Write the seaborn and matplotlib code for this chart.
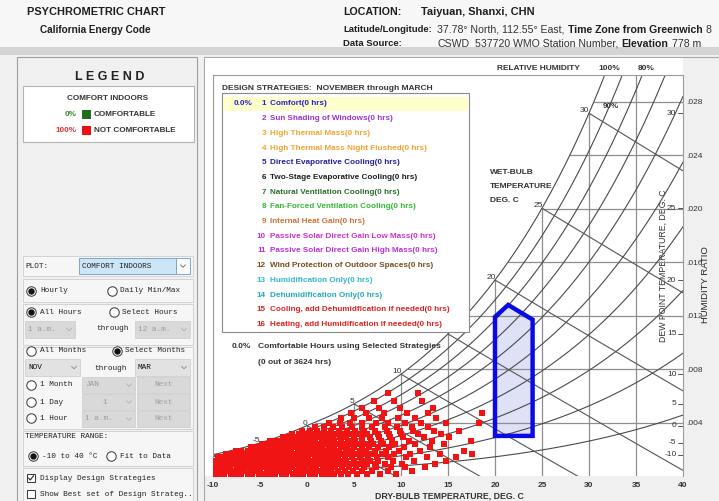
import numpy as np
import pandas as pd
import matplotlib
matplotlib.use("Agg")
import matplotlib.pyplot as plt
import seaborn as sns
from matplotlib.patches import Rectangle, Polygon
from matplotlib.lines import Line2D

sns.set_style("white")
plt.rcParams["font.family"] = ["Liberation Sans", "DejaVu Sans"]

W, H = 719, 501
P_ATM = 101.325  # chart is drawn at sea level pressure

# ---- chart construction values ----
rh_levels = [1.0, 0.9, 0.8, 0.7, 0.6, 0.5, 0.4, 0.3, 0.2, 0.1]
wet_bulb_temps = [-10, -5, 0, 5, 10, 15, 20, 25, 30]
dry_bulb_grid = [-5, 0, 5, 10, 15, 20, 25, 30, 35]
w_grid = [0.004, 0.008, 0.012, 0.016, 0.020, 0.024, 0.028]
w_tick_labels = [".004", ".008", ".012", ".016", ".020", ".024", ".028"]
dew_point_temps = [-10, -5, 0, 5, 10, 15, 20, 25, 30]
x_ticks = [-10, -5, 0, 5, 10, 15, 20, 25, 30, 35, 40]

# comfort zone outline (dry bulb C, humidity ratio)
comfort_db = [20.0, 24.0, 24.0, 21.4, 20.0]
comfort_w = [0.0030, 0.0030, 0.0117, 0.0128, 0.0119]

# hourly NOV-MAR points (humidity ratio g/kg)
cloud_w = [0.15, 0.4, 0.65, 0.9, 1.15, 1.4, 1.65, 1.9, 2.15, 2.4, 2.65,
           2.9, 3.15, 3.4, 3.7, 4.0, 4.35, 4.7, 5.1, 5.6, 6.2]
cloud_db = [
    [-9.9, -9.3, -8.8, -8.1, -7.6, -7.0, -6.3, -5.8, -5.1, -4.6, -3.9, -3.4, -2.7, -2.2,
     -1.5, -0.9, -0.4, 0.3, 0.9, 1.6, 2.2, 2.9, 3.6, 4.4, 5.3, 6.4, 7.8, 9.5],
    [-9.7, -9.1, -8.5, -7.9, -7.3, -6.8, -6.1, -5.5, -5.0, -4.3, -3.7, -3.1, -2.5, -1.9,
     -1.2, -0.6, 0.0, 0.6, 1.3, 1.9, 2.6, 3.3, 4.0, 4.9, 5.8, 6.9, 8.6, 11.2],
    [-9.9, -9.4, -8.7, -8.2, -7.5, -6.9, -6.4, -5.7, -5.2, -4.6, -3.9, -3.3, -2.8, -2.1,
     -1.6, -0.9, -0.3, 0.4, 1.0, 1.7, 2.3, 3.0, 3.7, 4.5, 5.2, 6.1, 7.3, 8.9, 10.4, 12.5],
    [-9.6, -9.0, -8.4, -7.8, -7.2, -6.6, -6.0, -5.4, -4.8, -4.2, -3.6, -3.0, -2.4, -1.8,
     -1.3, -0.7, -0.1, 0.6, 1.2, 1.9, 2.5, 3.2, 3.9, 4.7, 5.5, 6.4, 7.2, 8.3, 10.1, 13.6],
    [-9.8, -9.2, -8.6, -8.0, -7.4, -6.8, -6.2, -5.6, -5.0, -4.4, -3.8, -3.2, -2.6, -2.0,
     -1.4, -0.9, -0.2, 0.3, 1.0, 1.6, 2.2, 2.9, 3.5, 4.2, 5.0, 5.9, 6.7, 7.6, 9.2, 11.4, 14.8],
    [-9.5, -8.9, -8.3, -7.7, -7.1, -6.5, -5.9, -5.3, -4.7, -4.1, -3.5, -2.9, -2.3, -1.7,
     -1.1, -0.5, 0.1, 0.8, 1.4, 2.0, 2.7, 3.3, 4.0, 4.8, 5.6, 6.5, 7.4, 8.6, 10.5, 12.8, 15.9],
    [-8.6, -8.0, -7.4, -6.8, -6.2, -5.6, -5.0, -4.4, -3.8, -3.2, -2.6, -2.0, -1.5, -0.8,
     -0.2, 0.4, 1.1, 1.7, 2.3, 3.0, 3.7, 4.4, 5.2, 6.0, 6.9, 8.0, 9.3, 11.0, 14.2, 17.6],
    [-7.6, -7.0, -6.3, -5.8, -5.2, -4.6, -4.0, -3.4, -2.8, -2.2, -1.7, -1.0, -0.4, 0.2,
     0.8, 1.5, 2.1, 2.8, 3.4, 4.1, 4.8, 5.6, 6.3, 7.2, 8.4, 9.8, 12.0, 16.7],
    [-6.0, -5.5, -5.0, -4.5, -3.9, -3.3, -2.7, -2.1, -1.5, -0.9, -0.3, 0.3, 1.0, 1.6,
     2.3, 2.9, 3.6, 4.3, 5.0, 5.8, 6.6, 7.5, 8.7, 10.3, 13.1],
    [-4.8, -4.3, -3.8, -3.2, -2.6, -2.0, -1.4, -0.8, -0.2, 0.5, 1.1, 1.8, 2.4, 3.1,
     3.8, 4.6, 5.4, 6.2, 7.0, 8.1, 9.4, 11.5, 14.6],
    [-3.9, -3.3, -2.7, -2.1, -1.5, -0.9, -0.3, 0.3, 0.9, 1.6, 2.2, 2.9, 3.6, 4.4,
     5.1, 5.9, 6.8, 7.9, 9.0, 10.8, 13.3, 17.4],
    [-2.6, -2.1, -1.6, -1.0, -0.4, 0.2, 0.8, 1.5, 2.1, 2.8, 3.5, 4.2, 5.0, 5.8,
     6.7, 7.7, 8.8, 10.2, 12.4, 15.1],
    [-1.6, -0.9, -0.3, 0.4, 1.0, 1.7, 2.4, 3.1, 3.9, 4.7, 5.5, 6.4, 7.5, 8.7,
     10.0, 11.8, 14.3],
    [-0.5, 0.3, 1.1, 1.8, 2.6, 3.4, 4.3, 5.1, 6.1, 7.2, 8.5, 9.9, 11.3, 13.5, 16.2],
    [0.9, 1.8, 2.8, 3.7, 4.8, 5.8, 6.9, 8.3, 9.6, 11.2, 12.9],
    [2.3, 3.5, 4.6, 5.9, 7.3, 8.6, 10.4, 12.1, 14.8, 18.3],
    [3.6, 5.0, 6.6, 8.0, 9.7, 11.5, 13.7],
    [4.7, 6.3, 8.2, 10.6, 12.9, 18.6],
    [5.9, 7.7, 9.9, 13.4],
    [7.1, 9.3, 12.2],
    [8.6, 11.8],
]

strategy_names = [
    "Comfort(0 hrs)", "Sun Shading of Windows(0 hrs)", "High Thermal Mass(0 hrs)",
    "High Thermal Mass Night Flushed(0 hrs)", "Direct Evaporative Cooling(0 hrs)",
    "Two-Stage Evaporative Cooling(0 hrs)", "Natural Ventilation Cooling(0 hrs)",
    "Fan-Forced Ventilation Cooling(0 hrs)", "Internal Heat Gain(0 hrs)",
    "Passive Solar Direct Gain Low Mass(0 hrs)", "Passive Solar Direct Gain High Mass(0 hrs)",
    "Wind Protection of Outdoor Spaces(0 hrs)", "Humidification Only(0 hrs)",
    "Dehumidification Only(0 hrs)", "Cooling, add Dehumidfication if needed(0 hrs)",
    "Heating, add Humidification if needed(0 hrs)",
]
strategy_colors = [
    "#2424c0", "#9a34cc", "#f0a431", "#f0a431", "#22229a", "#1e1e1e", "#2e6e2e",
    "#36b836", "#cc7433", "#cc33cc", "#b833d8", "#7a4a1a", "#33b8cc", "#22aabb",
    "#dd2222", "#dd2222",
]


def p_sat(t):
    t = np.asarray(t, dtype=float)
    water = 0.61094 * np.exp(17.625 * t / (t + 243.04))
    ice = 0.61115 * np.exp(22.452 * t / (272.55 + t))
    return np.where(t >= 0, water, ice)


def hum_ratio(t, rh=1.0):
    pw = rh * p_sat(t)
    return 0.622 * pw / (P_ATM - pw)


def wet_bulb_line(twb):
    ws = hum_ratio(twb)
    t = np.linspace(twb, 40, 300)
    if twb >= 0:
        w = ((2501 - 2.326 * twb) * ws - 1.006 * (t - twb)) / (2501 + 1.86 * t - 4.186 * twb)
    else:
        w = ((2830 - 0.24 * twb) * ws - 1.006 * (t - twb)) / (2830 + 1.86 * t - 2.1 * twb)
    keep = w >= -0.0005
    return t[keep], w[keep]


def fx(x):
    return x / W


def fy(y):
    return 1 - y / H


fig = plt.figure(figsize=(W / 100, H / 100), dpi=100, facecolor="#f0f0f0")


def rect(x0, y0, x1, y1, fc, ec="none", lw=0.8, z=1):
    fig.add_artist(Rectangle((fx(x0), fy(y1)), (x1 - x0) / W, (y1 - y0) / H,
                             transform=fig.transFigure, fc=fc, ec=ec, lw=lw, zorder=z))


def ftext(x, y, s, size=6, **kw):
    kw.setdefault("va", "center")
    kw.setdefault("color", "#1e1e1e")
    return fig.text(fx(x), fy(y), s, fontsize=size, **kw)


# ---- window background ----
rect(0, 0, W, 47, "#f7f7f7", z=-5)
rect(0, 47, W, 55, "#d4d4d4", z=-5)
rect(204, 57, W + 2, H + 2, "#f0f0f0", ec="#a8a8a8", z=-5)
rect(205, 58, 683, 476, "white", z=-4)

# ---- header ----
ftext(27, 12, "PSYCHROMETRIC CHART", 7.9, fontweight="bold")
ftext(40, 30, "California Energy Code", 7.2, fontweight="bold")
ftext(343, 12, "LOCATION:", 7.7, fontweight="bold")
ftext(421, 12, "Taiyuan, Shanxi, CHN", 7.9, fontweight="bold")
ftext(343, 30, "Latitude/Longitude:", 6.8, fontweight="bold")
ftext(343, 44, "Data Source:", 6.8, fontweight="bold")

renderer = fig.canvas.get_renderer()


def chain(x, y, parts, size):
    for s, bold in parts:
        t = ftext(x, y, s, size, fontweight="bold" if bold else "normal",
                  color="#1e1e1e" if bold else "#333333")
        x += t.get_window_extent(renderer).width + 3.4


chain(437, 30, [("37.78\u00b0 North, 112.55\u00b0 East,", False),
                ("Time Zone from Greenwich", True), ("8", False)], 7.6)
chain(437, 44, [("CSWD", False)], 7.6)
chain(475, 44, [("537720 WMO Station Number,", False), ("Elevation", True),
                ("778 m", False)], 7.6)

# ---- left panel ----
rect(17, 57, 197, H + 2, "#f0f0f0", ec="#a0a0a0", z=0.5)
ftext(110, 77, "L E G E N D", 9, fontweight="bold", ha="center", color="#222222")
rect(23, 86, 194, 142, "white", ec="#b4b4b4")
ftext(108, 98, "COMFORT INDOORS", 5.9, fontweight="bold", ha="center", color="#333333")
ftext(77, 115, "0%", 5.9, fontweight="bold", ha="right", color="#2e8b2e")
rect(82, 110, 91, 119, "#1f6e1f", z=2)
ftext(94, 115, "COMFORTABLE", 5.9, fontweight="bold", color="#333333")
ftext(77, 131, "100%", 5.9, fontweight="bold", ha="right", color="#e03030")
rect(82, 126, 91, 135, "#ee1111", z=2)
ftext(94, 131, "NOT COMFORTABLE", 5.9, fontweight="bold", color="#333333")

for y0, y1 in [(256, 276), (279, 302), (304, 345), (347, 429), (431, 466), (468, 503)]:
    rect(23, y0, 193, y1, "#f6f6f6", ec="#d2d2d2", lw=0.7)

MONO = ["Liberation Mono", "DejaVu Sans Mono"]


def mtext(x, y, s, color="#222222", **kw):
    return ftext(x, y, s, 5.6, family=MONO, color=color, **kw)


def chevron(x, y, color="#777777"):
    fig.add_artist(Line2D([fx(x - 2.5), fx(x), fx(x + 2.5)], [fy(y - 1.2), fy(y + 1.3), fy(y - 1.2)],
                          transform=fig.transFigure, color=color, lw=0.6, zorder=3))


def radio(x, y, on):
    fig.add_artist(Line2D([fx(x)], [fy(y)], marker="o", ms=6.8, mfc="white", mec="#333333",
                          mew=0.7, transform=fig.transFigure, zorder=3))
    if on:
        fig.add_artist(Line2D([fx(x)], [fy(y)], marker="o", ms=3.6, mfc="#111111", mec="#111111",
                              transform=fig.transFigure, zorder=4))


def checkbox(x, y, on):
    fig.add_artist(Line2D([fx(x)], [fy(y)], marker="s", ms=6.3, mfc="white", mec="#333333",
                          mew=0.7, transform=fig.transFigure, zorder=3))
    if on:
        fig.add_artist(Line2D([fx(x - 2.5), fx(x - 0.7), fx(x + 2.6)], [fy(y), fy(y + 2), fy(y - 2.4)],
                              transform=fig.transFigure, color="#222222", lw=0.8, zorder=4))


def combo(x0, y0, x1, y1, label, enabled, center=False):
    rect(x0, y0, x1, y1, "#e2e2e2" if enabled else "#d9d9d9", ec="#d0d0d0", lw=0.6, z=2)
    col = "#111111" if enabled else "#9a9a9a"
    if center:
        mtext((x0 + x1) / 2 - 4, (y0 + y1) / 2, label, color=col, ha="center")
    else:
        mtext(x0 + 3, (y0 + y1) / 2, label, color=col)
    chevron(x1 - 6, (y0 + y1) / 2, "#888888" if enabled else "#b0b0b0")


def button(x0, y0, x1, y1, label):
    rect(x0, y0, x1, y1, "#d9d9d9", ec="#d0d0d0", lw=0.6, z=2)
    mtext((x0 + x1) / 2, (y0 + y1) / 2, label, color="#a0a0a0", ha="center")


mtext(25, 266, "PLOT:")
rect(79, 258, 176, 274, "#cde6f7", ec="#7aa7d0", lw=0.7, z=2)
rect(176, 258, 190, 274, "#fbfbfb", ec="#7aa7d0", lw=0.7, z=2)
mtext(82, 266, "COMFORT INDOORS")
chevron(183, 266, "#666666")

radio(31, 291, True)
mtext(40, 291, "Hourly")
radio(112, 291, False)
mtext(120, 291, "Daily Min/Max")

radio(31, 312, True)
mtext(40, 312, "All Hours")
radio(114, 312, False)
mtext(122, 312, "Select Hours")
combo(25, 321, 75, 338, "1 a.m.", False)
mtext(112, 329, "through", ha="center")
combo(135, 321, 190, 338, "12 a.m.", False)

radio(31, 351, False)
mtext(40, 351, "All Months")
radio(117, 351, True)
mtext(125, 351, "Select Months")
combo(25, 359, 80, 376, "NOV", True)
mtext(110, 368, "through", ha="center")
combo(135, 359, 190, 376, "MAR", True)

radio(31, 385, False)
mtext(40, 385, "1 Month")
combo(82, 377, 135, 393, "JAN", False)
button(137, 377, 190, 393, "Next")
radio(31, 402, False)
mtext(40, 402, "1 Day")
combo(82, 394, 135, 410, "1", False, center=True)
button(137, 394, 190, 410, "Next")
radio(31, 418, False)
mtext(40, 418, "1 Hour")
combo(82, 411, 135, 427, "1 a.m.", False)
button(137, 411, 190, 427, "Next")

mtext(25, 436, "TEMPERATURE RANGE:")
radio(33, 456, True)
mtext(42, 456, "-10 to 40 \u00b0C")
radio(111, 456, False)
mtext(120, 456, "Fit to Data")

checkbox(31, 478, True)
mtext(40, 478, "Display Design Strategies")
checkbox(31, 494, False)
mtext(40, 494, "Show Best set of Design Strateg..")

# ---- psychrometric chart ----
ax = fig.add_axes([213 / W, (H - 476) / H, 470 / W, 401 / H])
ax.set_facecolor("white")

t_fine = np.linspace(-20, 50, 3000)
ws_fine = hum_ratio(t_fine)

grid_kw = dict(color="#8e8e8e", lw=0.9, zorder=2)
for t in dry_bulb_grid:
    ax.plot([t, t], [0, hum_ratio(t)], **grid_kw)
for w in w_grid:
    ax.plot([np.interp(w, ws_fine, t_fine), 40], [w, w], **grid_kw)

t_curve = np.linspace(-10, 40, 400)
for rh in rh_levels:
    ax.plot(t_curve, hum_ratio(t_curve, rh), color="#4a4a4a", lw=0.8, zorder=2)

for twb in wet_bulb_temps:
    tt, ww = wet_bulb_line(twb)
    ax.plot(tt, ww, color="#555555", lw=0.8, zorder=2)
    ax.text(twb + 0.05, hum_ratio(twb) + 0.00018, str(twb), fontsize=6, ha="right", va="center",
            color="#333333", zorder=4, clip_on=True)

for tdp in dew_point_temps:
    wd = hum_ratio(tdp)
    ax.plot([39.45, 40], [wd, wd], color="#555555", lw=0.7, zorder=4)
    ax.text(39.3, wd, str(tdp), fontsize=6, ha="right", va="center", color="#333333", zorder=4)

# comfort zone
ax.add_patch(Polygon(list(zip(comfort_db, comfort_w)), closed=True, fc="#dfe2f6", ec="none", zorder=1))
ax.add_patch(Polygon(list(zip(comfort_db, comfort_w)), closed=True, fill=False, ec="#0a0ae6",
                     lw=3.2, joinstyle="miter", zorder=4))

# hourly data cloud
pts_db, pts_w = [], []
for w_row, db_row in zip(cloud_w, cloud_db):
    pts_db += db_row
    pts_w += [w_row / 1000.0] * len(db_row)
cloud = pd.DataFrame({"dry_bulb": pts_db, "hum_ratio": pts_w})
sns.scatterplot(data=cloud, x="dry_bulb", y="hum_ratio", ax=ax, color="#f01414", s=13,
                linewidth=0, marker="s", zorder=3, legend=False)

ax.set_xlim(-10, 40)
ax.set_ylim(0, 0.030)
ax.set_xlabel("")
ax.set_ylabel("")
ax.set_xticks(x_ticks)
ax.set_xticklabels([str(v) for v in x_ticks])
ax.yaxis.tick_right()
ax.set_yticks(w_grid)
ax.set_yticklabels(w_tick_labels)
ax.tick_params(axis="x", length=0, pad=4.5, labelsize=6, labelcolor="#333333")
ax.tick_params(axis="y", length=0, pad=2.5, labelsize=6, labelcolor="#333333")
for lbl in ax.get_xticklabels():
    lbl.set_fontweight("bold")
for side in ["left", "top", "right"]:
    ax.spines[side].set_color("#9a9a9a")
    ax.spines[side].set_linewidth(0.8)
ax.spines["bottom"].set_visible(False)


# strategies panel inside the chart
def atext(x, y, s, size=5.9, z=6, **kw):
    kw.setdefault("va", "center")
    kw.setdefault("color", "#333333")
    return ax.text(fx(x), fy(y), s, fontsize=size, transform=fig.transFigure, zorder=z, **kw)


ax.add_patch(Rectangle((fx(222), fy(332)), 247 / W, 239 / H, transform=fig.transFigure,
                       fc="white", ec="#8a8a8a", lw=0.8, zorder=5, clip_on=False))
ax.add_patch(Rectangle((fx(223), fy(111)), 245 / W, 14 / H, transform=fig.transFigure,
                       fc="#ffffcc", ec="none", zorder=5.5, clip_on=False))
atext(222, 88, "DESIGN STRATEGIES:  NOVEMBER through MARCH", 6.0, fontweight="bold")
atext(234, 104, "0.0%", fontweight="bold", color="#2424c0")
for i, (name, col) in enumerate(zip(strategy_names, strategy_colors)):
    yy = 104 + i * 14.7
    atext(266, yy, str(i + 1), fontweight="bold", color=col, ha="right")
    atext(270, yy, name, fontweight="bold", color=col)

atext(232, 346, "0.0%", 6.0, fontweight="bold", z=1.5)
atext(258, 346, "Comfortable Hours using Selected Strategies", 6.0, fontweight="bold", z=1.5)
atext(258, 362, "(0 out of 3624 hrs)", 6.0, fontweight="bold", z=1.5)

atext(490, 173, "WET-BULB", 6, fontweight="bold", z=1.5)
atext(490, 187, "TEMPERATURE", 6, fontweight="bold", z=1.5)
atext(490, 201, "DEG. C", 6, fontweight="bold", z=1.5)
atext(603, 106, "90%", 5.8, fontweight="bold", z=4)
atext(663, 266, "DEW POINT TEMPERATURE, DEG. C", 6.3, rotation=90, ha="center", z=1.5)

ftext(497, 69, "RELATIVE HUMIDITY", 6, fontweight="bold", color="#333333")
ftext(598, 69, "100%", 6, fontweight="bold", color="#333333")
ftext(638, 69, "80%", 6, fontweight="bold", color="#333333")
ftext(706, 285, "HUMIDITY RATIO", 6.8, rotation=90, ha="center", color="#222222")
ftext(449, 496, "DRY-BULB TEMPERATURE, DEG. C", 6.3, fontweight="bold", ha="center", color="#333333")

fig.savefig("out.png", dpi=100, facecolor=fig.get_facecolor())
